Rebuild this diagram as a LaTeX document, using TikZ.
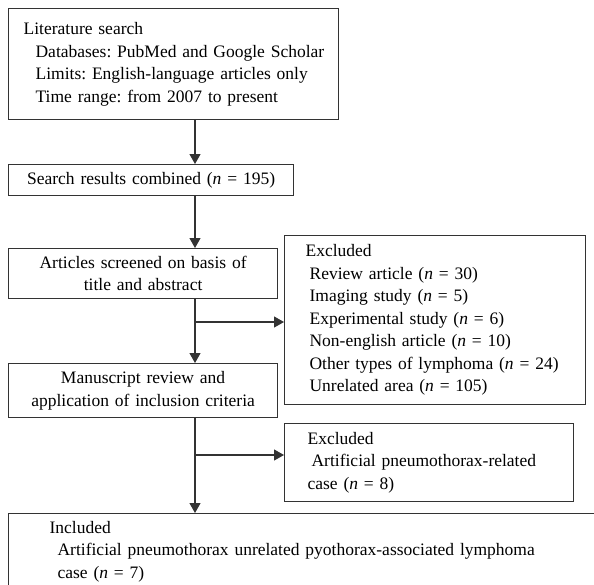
\documentclass[tikz,border=0pt]{standalone}
\usepackage{fontspec}
\setmainfont{Liberation Serif}
\usetikzlibrary{arrows.meta,positioning}

\definecolor{flowline}{HTML}{333333}

\tikzset{
  box/.style={draw=flowline, line width=1.2pt, inner ysep=0pt,
    anchor=north west, font=\fontsize{17.5}{22.5}\selectfont},
  flow/.style={draw=flowline, line width=1.2pt,
    -{Triangle[length=10pt,width=11pt]}},
}
\newcommand{\nval}{\textit{n}}

\begin{document}
\frenchspacing
\begin{tikzpicture}[x=1pt,y=-1pt]
\useasboundingbox (0,0) rectangle (594,584);

% Boxes
\node[box, minimum width=330pt, minimum height=111pt, inner xsep=3pt,
  text width=324pt, align=left] (lit) at (8,8)
  {\hspace*{12pt}Literature search\\
   \hspace*{24pt}Databases: PubMed and Google Scholar\\
   \hspace*{24pt}Limits: English-language articles only\\
   \hspace*{24pt}Time range: from 2007 to present};
\node[box, minimum width=285pt, minimum height=31pt, inner xsep=0pt,
  text width=285pt, align=center] (search) at (8,164)
  {Search results combined (\nval{} = 195)};
\node[box, minimum width=269pt, minimum height=50pt, inner xsep=0pt,
  text width=269pt, align=center] (screen) at (8,248)
  {Articles screened on basis of\\ title and abstract};
\node[box, minimum width=301pt, minimum height=169pt, inner xsep=21pt,
  text width=259pt, align=left] (excone) at (284,235)
  {Excluded\\
   \hspace*{4pt}Review article (\nval{} = 30)\\
   \hspace*{4pt}Imaging study (\nval{} = 5)\\
   \hspace*{4pt}Experimental study (\nval{} = 6)\\
   \hspace*{4pt}Non-english article (\nval{} = 10)\\
   \hspace*{4pt}Other types of lymphoma (\nval{} = 24)\\
   \hspace*{4pt}Unrelated area (\nval{} = 105)};
\node[box, minimum width=269pt, minimum height=54pt, inner xsep=0pt,
  text width=269pt, align=center] (manu) at (8,363)
  {Manuscript review and\\ application of inclusion criteria};
\node[box, minimum width=289pt, minimum height=78pt, inner xsep=23pt,
  text width=243pt, align=left] (exctwo) at (284,423)
  {Excluded\\
   \hspace*{4pt}Artificial pneumothorax-related\\
   case (\nval{} = 8)};
\node[box, minimum width=600pt, minimum height=76pt, inner xsep=41pt,
  text width=518pt, align=left] (incl) at (8,513)
  {Included\\
   \hspace*{8pt}Artificial pneumothorax unrelated pyothorax-associated lymphoma\\
   \hspace*{8pt}case (\nval{} = 7)};

% Spine and branch points
\coordinate (spine) at (195,0);
\coordinate (jone) at (195,322);
\coordinate (jtwo) at (195,455);

% Connectors
\draw[flow] (lit.south -| spine) -- (search.north -| spine);
\draw[flow] (search.south -| spine) -- (screen.north -| spine);
\draw[flow] (screen.south -| spine) -- (manu.north -| spine);
\draw[flow] (jone) -- (jone -| excone.west);
\draw[flow] (manu.south -| spine) -- (incl.north -| spine);
\draw[flow] (jtwo) -- (jtwo -| exctwo.west);
\end{tikzpicture}
\end{document}
